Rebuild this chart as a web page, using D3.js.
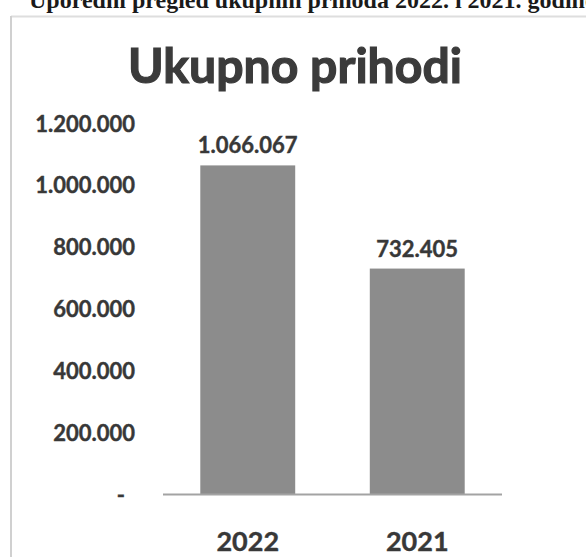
<!DOCTYPE html>
<html>
<head>
<meta charset="utf-8">
<script src="https://cdn.jsdelivr.net/npm/d3@7"></script>
<style>
  html, body { margin: 0; padding: 0; background: #ffffff; }
  svg { display: block; }
</style>
</head>
<body>
<div id="chart"></div>
<script>
const caption = "Uporedni pregled ukupnih prihoda 2022. i 2021. godine";
const title = "Ukupno prihodi";
const categories = ["2022", "2021"];
const values = [1066067, 732405];
const yTicks = [0, 200000, 400000, 600000, 800000, 1000000, 1200000];

const W = 586, H = 557;
const svg = d3.select("#chart").append("svg").attr("width", W).attr("height", H);

const loc = d3.formatLocale({ decimal: ",", thousands: ".", grouping: [3], currency: ["", ""] });
const fmt = loc.format(",.0f");
const tickFmt = v => v === 0 ? "-" : fmt(v);

// page caption (cut off at top)
svg.append("text")
  .attr("x", 29).attr("y", 8)
  .attr("font-family", "Liberation Serif, serif")
  .attr("font-weight", "bold")
  .attr("font-size", 24)
  .attr("fill", "#1a1a1a")
  .text(caption);

// chart frame
svg.append("line").attr("x1", 11).attr("x2", W).attr("y1", 16.5).attr("y2", 16.5)
  .attr("stroke", "#dedede").attr("stroke-width", 2);
svg.append("line").attr("x1", 11).attr("x2", 11).attr("y1", 16).attr("y2", H)
  .attr("stroke", "#d0d0d0").attr("stroke-width", 2);

// title
svg.append("text")
  .attr("x", 295).attr("y", 83)
  .attr("text-anchor", "middle")
  .attr("font-family", "Lato, sans-serif")
  .attr("font-weight", "bold")
  .attr("font-size", 48)
  .attr("textLength", 334)
  .attr("lengthAdjust", "spacingAndGlyphs")
  .attr("fill", "#3b3b3b")
  .attr("stroke", "#3b3b3b")
  .attr("stroke-width", 1.2)
  .text(title);

const x = d3.scaleBand().domain(categories).range([163, 502]).paddingInner(0.44).paddingOuter(0.22);
const y = d3.scaleLinear().domain([0, 1200000]).range([495, 124]);

const labelStyle = sel => sel
  .attr("font-family", "Lato, sans-serif")
  .attr("font-weight", "bold")
  .attr("fill", "#383838")
  .attr("stroke", "#383838")
  .attr("stroke-width", 0.4);

// y axis labels
const yAxis = svg.append("g").attr("transform", "translate(135,0)")
  .call(d3.axisLeft(y).tickValues(yTicks).tickSize(0).tickPadding(0).tickFormat(tickFmt));
yAxis.select(".domain").remove();
yAxis.selectAll("text")
  .call(labelStyle)
  .attr("font-size", 22)
  .attr("dx", d => d === 0 ? -10 : 0);

// bars
svg.append("g").selectAll("rect").data(values).join("rect")
  .attr("x", (d, i) => x(categories[i]))
  .attr("y", d => y(d))
  .attr("width", x.bandwidth())
  .attr("height", d => y(0) - y(d))
  .attr("fill", "#8c8c8c");

// baseline
svg.append("line").attr("x1", 163).attr("x2", 502).attr("y1", y(0) - 0.5).attr("y2", y(0) - 0.5)
  .attr("stroke", "#a3a3a3").attr("stroke-width", 2);

// value labels
svg.append("g").selectAll("text").data(values).join("text")
  .attr("x", (d, i) => x(categories[i]) + x.bandwidth() / 2)
  .attr("y", d => y(d) - 12)
  .attr("text-anchor", "middle")
  .call(labelStyle)
  .attr("font-size", 22)
  .text(d => fmt(d));

// x axis labels
const xAxis = svg.append("g").attr("transform", `translate(0,${y(0)})`)
  .call(d3.axisBottom(x).tickSize(0).tickPadding(0));
xAxis.select(".domain").remove();
xAxis.selectAll("text")
  .attr("y", 56)
  .attr("dy", 0)
  .call(labelStyle)
  .attr("font-size", 27);
</script>
</body>
</html>
